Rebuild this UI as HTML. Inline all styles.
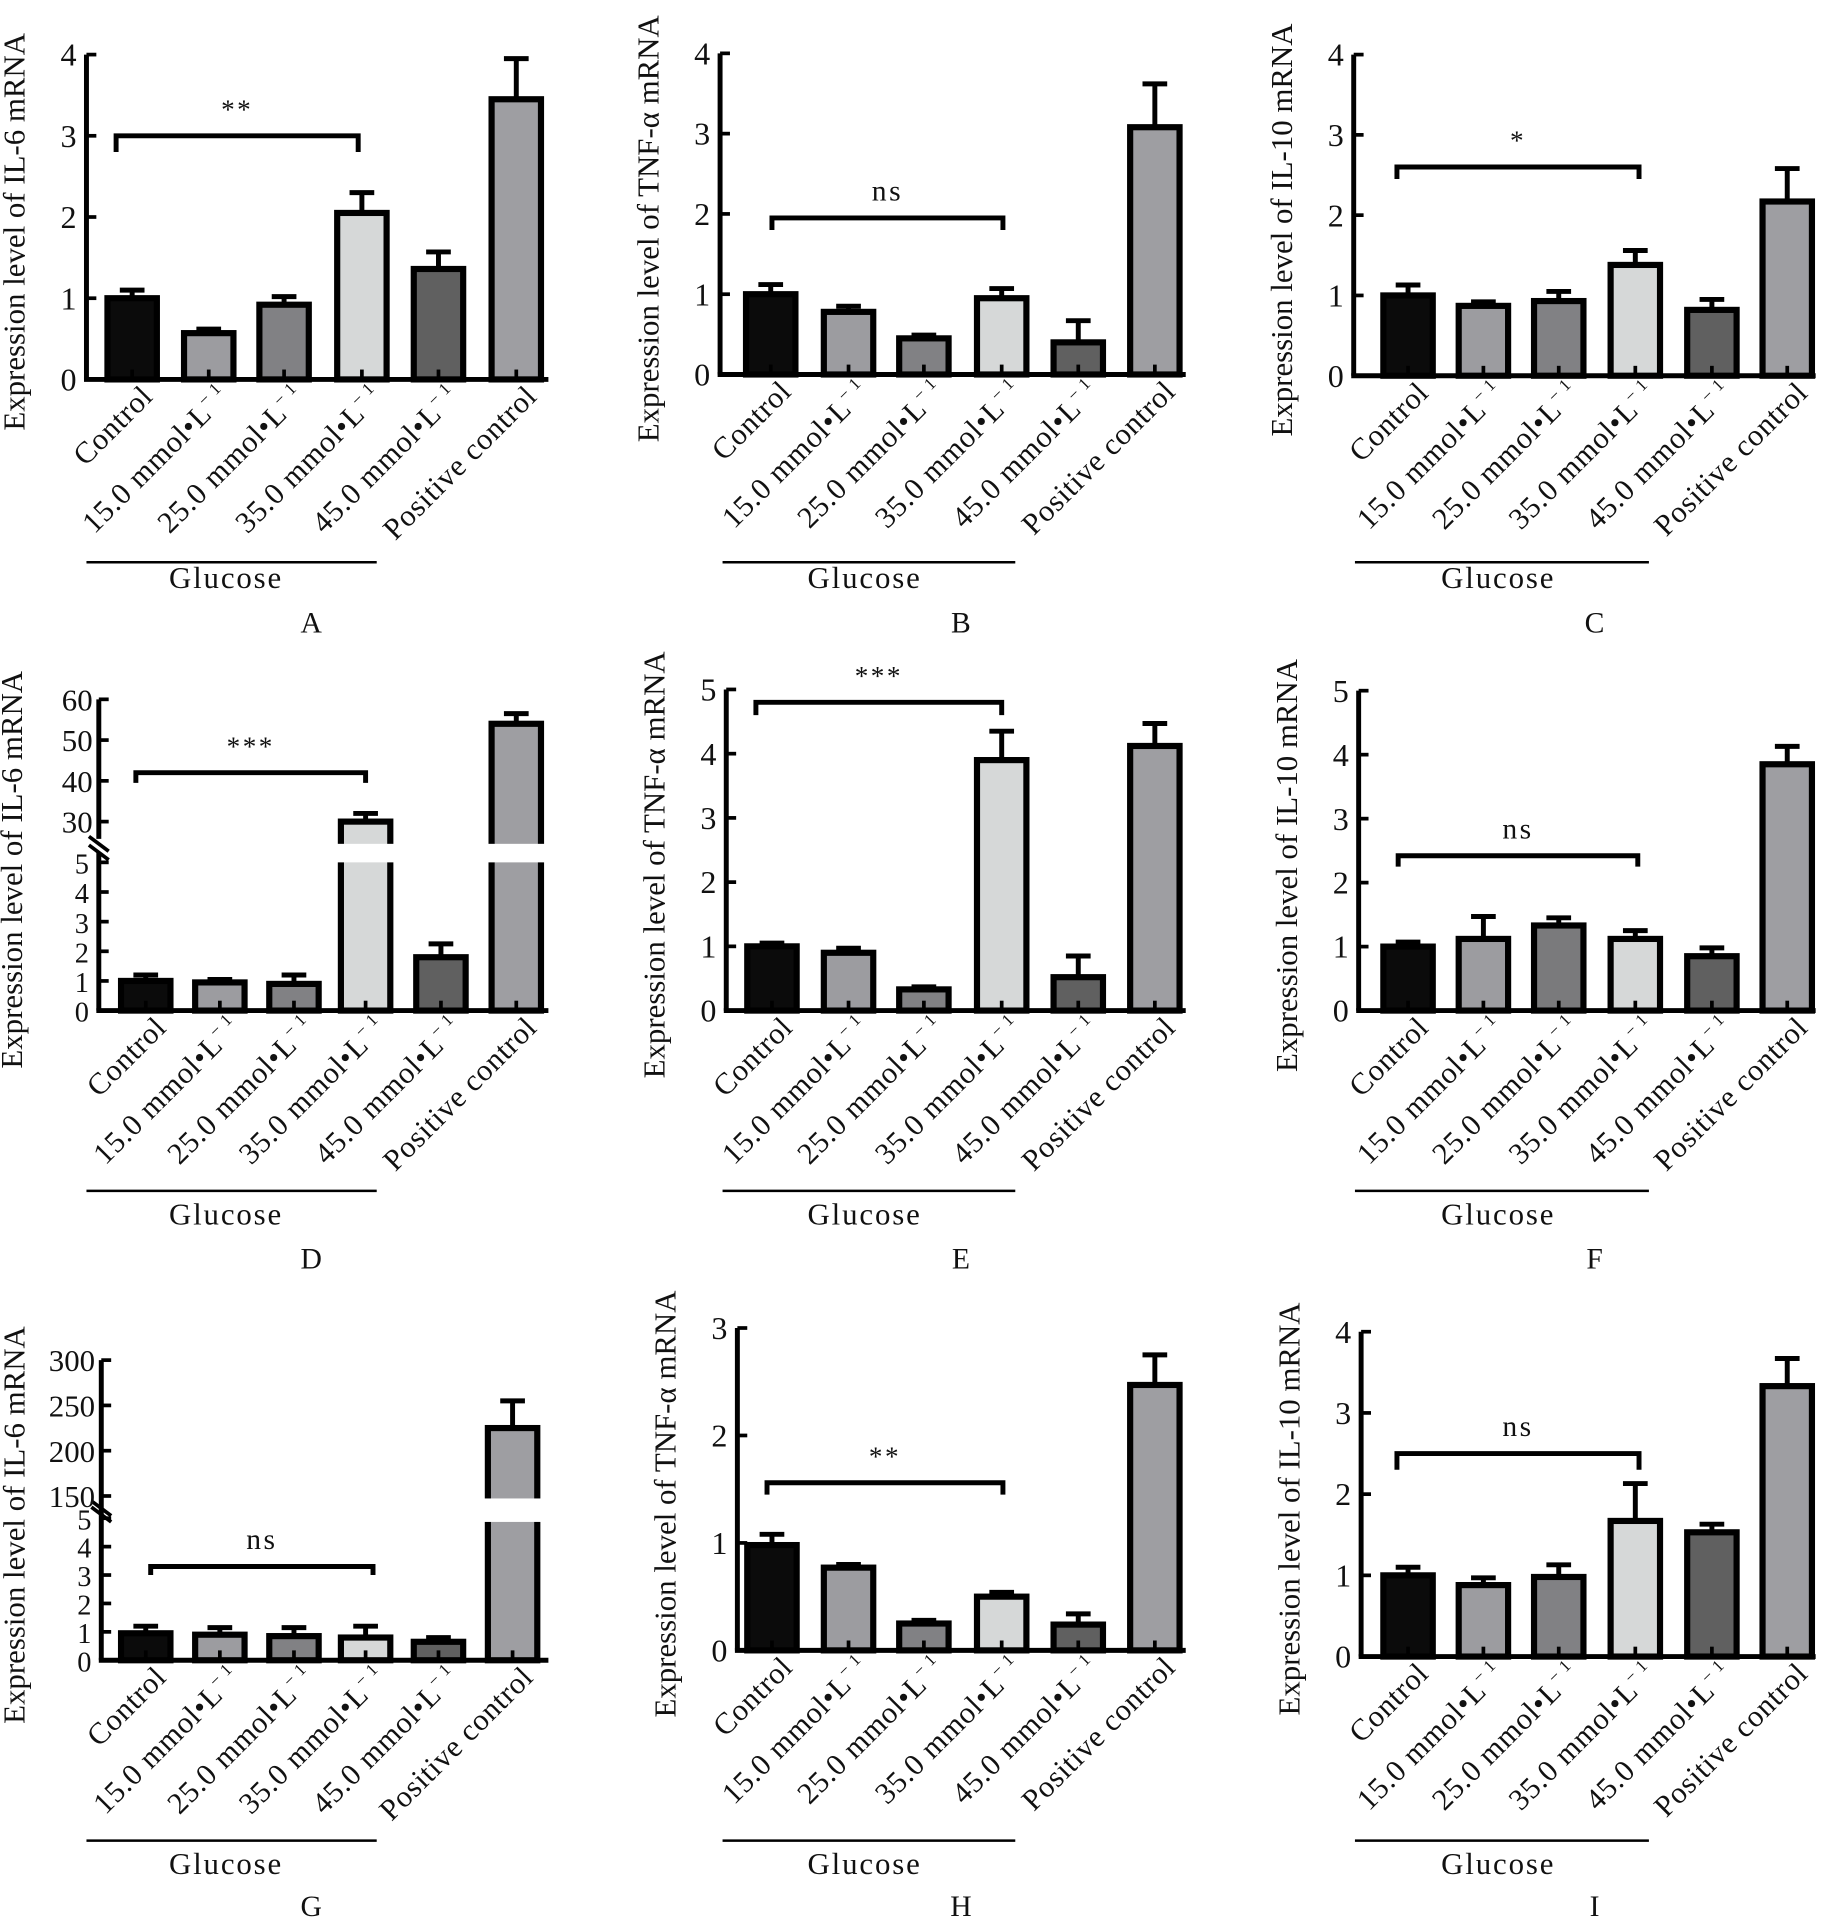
<!DOCTYPE html>
<html><head><meta charset="utf-8"><style>
html,body{margin:0;padding:0;background:#fff}
svg{display:block}
text{font-family:"Liberation Serif",serif;fill:#111}
</style></head><body>
<svg id="fig" width="1828" height="1931" viewBox="0 0 1480 1563" xmlns="http://www.w3.org/2000/svg"></svg>
<script>
const categories=["Control","15.0 mmol\u2022L","25.0 mmol\u2022L","35.0 mmol\u2022L","45.0 mmol\u2022L","Positive control"];
const valsA=[1.0,0.57,0.92,2.05,1.36,3.45], errA=[1.1,0.62,1.02,2.3,1.57,3.95];
const valsB=[1.0,0.78,0.45,0.95,0.4,3.08], errB=[1.12,0.85,0.49,1.07,0.67,3.62];
const valsC=[1.0,0.87,0.93,1.38,0.82,2.17], errC=[1.13,0.92,1.05,1.56,0.95,2.58];
const valsD=[1.0,0.95,0.9,30,1.8,54], errD=[1.2,1.05,1.2,32,2.25,56.5];
const valsE=[1.0,0.9,0.33,3.9,0.52,4.12], errE=[1.05,0.97,0.37,4.35,0.85,4.47];
const valsF=[1.0,1.12,1.33,1.12,0.85,3.85], errF=[1.07,1.47,1.45,1.25,0.98,4.13];
const valsG=[0.95,0.9,0.85,0.8,0.65,225], errG=[1.2,1.15,1.15,1.2,0.8,255];
const valsH=[0.98,0.77,0.25,0.5,0.24,2.47], errH=[1.08,0.8,0.28,0.54,0.34,2.75];
const valsI=[1.0,0.88,0.98,1.67,1.53,3.33], errI=[1.1,0.97,1.13,2.13,1.63,3.67];
const ticks4=[0,1,2,3,4], ticks5=[0,1,2,3,4,5], ticks3=[0,1,2,3];
const ticksDUp=[30,40,50,60], ticksGUp=[150,200,250,300];
const colsStd=["#0b0b0b","#9c9ca0","#818184","#d6d8d8","#606060","#9e9ea2"];
const colsF=["#0b0b0b","#9c9ca0","#7a7a7c","#d6d8d8","#606060","#9e9ea2"];

const NS="http://www.w3.org/2000/svg";
const svg=document.getElementById('fig');
function el(tag,attrs,parent,txt){const e=document.createElementNS(NS,tag);for(const k in attrs)e.setAttribute(k,attrs[k]);if(txt!==undefined)e.textContent=txt;(parent||svg).appendChild(e);return e;}

const panels=[
 {id:"A",title:"Expression level of IL-6 mRNA",ax:70,right:444,top:44,zero:307,max:4,vals:valsA,err:errA,ticks:ticks4,centers:[107,169,230,293,355,418],br:[94,290,3.0,2.8],sig:"**",row:0,cols:colsStd},
 {id:"B",title:"Expression level of  TNF-\u03b1 mRNA",ax:583,right:960,top:43,zero:303,max:4,vals:valsB,err:errB,ticks:ticks4,centers:[624,687,748,811,873,935],br:[625,812,1.95,1.8],sig:"ns",row:0,cols:colsStd},
 {id:"C",title:"Expression level of  IL-10 mRNA",ax:1096,right:1470,top:44,zero:304,max:4,vals:valsC,err:errC,ticks:ticks4,centers:[1140,1201,1262,1324,1386,1447],br:[1131,1327,2.6,2.45],sig:"*",row:0,cols:colsStd},
 {id:"D",title:"Expression level of  IL-6 mRNA",ax:80,right:444,top:566,zero:818,max:5,vals:valsD,err:errD,ticks:ticks5,centers:[118,178,238,296,357,418],br:[110,296,42,39.5],sig:"***",row:1,cols:colsStd,
   brk:{lowTop:698,upLo:30,upLoY:665,upHi:60,upHiY:566,upTicks:ticksDUp,gapA:683,gapB:698,upEnd:679}},
 {id:"E",title:"Expression level of TNF-\u03b1 mRNA",ax:588,right:960,top:558,zero:818,max:5,vals:valsE,err:errE,ticks:ticks5,centers:[625,687,748,811,873,935],br:[612,811,4.8,4.6],sig:"***",row:1,cols:colsStd},
 {id:"F",title:"Expression level of IL-10 mRNA",ax:1100,right:1470,top:559,zero:818,max:5,vals:valsF,err:errF,ticks:ticks5,centers:[1140,1201,1262,1324,1386,1447],br:[1132,1326,2.42,2.25],sig:"ns",row:1,cols:colsF},
 {id:"G",title:"Expression level of  IL-6 mRNA",ax:82,right:444,top:1101,zero:1344,max:5,vals:valsG,err:errG,ticks:ticks5,centers:[118,178,238,296,355,415],br:[122,302,3.3,3.0],sig:"ns",row:2,cols:colsStd,
   brk:{lowTop:1229,upLo:150,upLoY:1211,upHi:300,upHiY:1101,upTicks:ticksGUp,gapA:1213,gapB:1232,upEnd:1222}},
 {id:"H",title:"Expression level of  TNF-\u03b1 mRNA",ax:597,right:960,top:1075,zero:1336,max:3,vals:valsH,err:errH,ticks:ticks3,centers:[625,687,748,811,873,935],br:[621,812,1.56,1.45],sig:"**",row:2,cols:colsStd},
 {id:"I",title:"Expression level of  IL-10 mRNA",ax:1102,right:1470,top:1078,zero:1341,max:4,vals:valsI,err:errI,ticks:ticks4,centers:[1140,1201,1262,1324,1386,1447],br:[1131,1327,2.5,2.3],sig:"ns",row:2,cols:colsStd}
];
const rowInfo=[{gl:455,gt:476,let:512},{gl:964,gt:991,let:1027},{gl:1490,gt:1517,let:1551}];
const colInfo=[{l:70,r:305,c:183,lx:252},{l:585,r:822,c:700,lx:778},{l:1097,r:1335,c:1213,lx:1291}];

panels.forEach((p,pi)=>{
  const g=el('g',{});
  
  
  const b=p.brk;
  const yS=v=>{
    if(!b) return p.zero-(v/p.max)*(p.zero-p.top);
    if(v<=p.max) return p.zero-(v/p.max)*(p.zero-b.lowTop);
    if(v<b.upLo) return b.upLoY+(b.upLo-v)/(b.upHi-b.upLo)*(b.upLoY-b.upHiY)*0.6;
    return b.upLoY-(v-b.upLo)/(b.upHi-b.upLo)*(b.upLoY-b.upHiY);
  };
  p.vals.forEach((v,i)=>{
    const cx=p.centers[i], w=40, y=yS(v), ye=yS(p.err[i]);
    const eb=el('line',{x1:cx,x2:cx,y1:ye,y2:y,stroke:'#000','stroke-width':4},g);
    
    
    const cap=el('line',{x1:cx-10,x2:cx+10,y1:ye,y2:ye,stroke:'#000','stroke-width':4},g);
    
    
    const r=el('rect',{x:cx-w/2,y:y,width:w,height:p.zero-y,fill:p.cols[i],stroke:'#000','stroke-width':5},g);
    
    
    el('line',{x1:cx,x2:cx,y1:p.zero,y2:p.zero-8,stroke:'#000','stroke-width':3},g);
    if(b && v>p.max){
      el('rect',{x:cx-w/2-4,y:b.gapA,width:w+8,height:b.gapB-b.gapA,fill:'#fff'},g);
    }
  });
  const axTop=b?b.upHiY:p.top;
  if(b){
    const ya=el('line',{x1:p.ax,x2:p.ax,y1:b.upHiY,y2:b.upEnd,stroke:'#000','stroke-width':4},g);
    
    const yb=el('line',{x1:p.ax,x2:p.ax,y1:b.lowTop-8,y2:p.zero,stroke:'#000','stroke-width':4},g);
    
    el('line',{x1:p.ax-8,x2:p.ax+8,y1:b.upEnd-2,y2:b.upEnd+10,stroke:'#000','stroke-width':3},g);
    el('line',{x1:p.ax-8,x2:p.ax+8,y1:b.lowTop-14,y2:b.lowTop-2,stroke:'#000','stroke-width':3},g);
    b.upTicks.forEach(t=>{const y=yS(t);el('line',{x1:p.ax,x2:p.ax+8,y1:y,y2:y,stroke:'#000','stroke-width':3},g);
      const tl=el('text',{x:p.ax-5,y:y+9,'text-anchor':'end','font-size':25},g,t);});
  } else {
    const ya=el('line',{x1:p.ax,x2:p.ax,y1:p.top,y2:p.zero,stroke:'#000','stroke-width':4},g);
    
  }
  const xa=el('line',{x1:p.ax-2,x2:p.right,y1:p.zero,y2:p.zero,stroke:'#000','stroke-width':4},g);
  
  p.ticks.forEach(t=>{const y=yS(t);
    el('line',{x1:p.ax,x2:p.ax+8,y1:y,y2:y,stroke:'#000','stroke-width':3},g);
    const tl=el('text',{x:p.ax-8,y:y+9,'text-anchor':'end','font-size':b?23:26},g,t);
    });
  const yc=(axTop+p.zero)/2+12;
  const tx=p.ax-(b?62:50);
  const yt=el('text',{x:tx,y:yc,'text-anchor':'middle','font-size':25,transform:`rotate(-90 ${tx} ${yc})`},g,p.title);
  
  categories.forEach((c,i)=>{
    const x=p.centers[i]+18, y=p.zero+15;
    const t=el('text',{x:x,y:y,'text-anchor':'end','font-size':24.5,'letter-spacing':0.6,transform:`rotate(-45 ${x} ${y})`},g);
    
    if(i>=1&&i<=4){el('tspan',{},t,c);el('tspan',{'font-size':14,dy:-10},t,'\u2212\u00a01');}
    else t.textContent=c;
  });
  const [x1,x2,vb,vd]=p.br, yb1=yS(vb), yd=yS(vd);
  const br=el('path',{d:`M${x1} ${yd}V${yb1}H${x2}V${yd}`,fill:'none',stroke:'#000','stroke-width':4},g);
  
  const st=el('text',{x:(x1+x2)/2,y:yb1-14,'text-anchor':'middle','font-size':p.sig==='ns'?24:22,'letter-spacing':2},g,p.sig);
  
  const ri=rowInfo[p.row], ci=colInfo[pi%3];
  const gl=el('line',{x1:ci.l,x2:ci.r,y1:ri.gl,y2:ri.gl,stroke:'#000','stroke-width':2},g);
  
  const gt=el('text',{x:ci.c,y:ri.gt,'text-anchor':'middle','font-size':25,'letter-spacing':1.5},g,'Glucose');
  
  const lt=el('text',{x:ci.lx,y:ri.let,'text-anchor':'middle','font-size':24},g,p.id);
  
});
</script>
</body></html>
